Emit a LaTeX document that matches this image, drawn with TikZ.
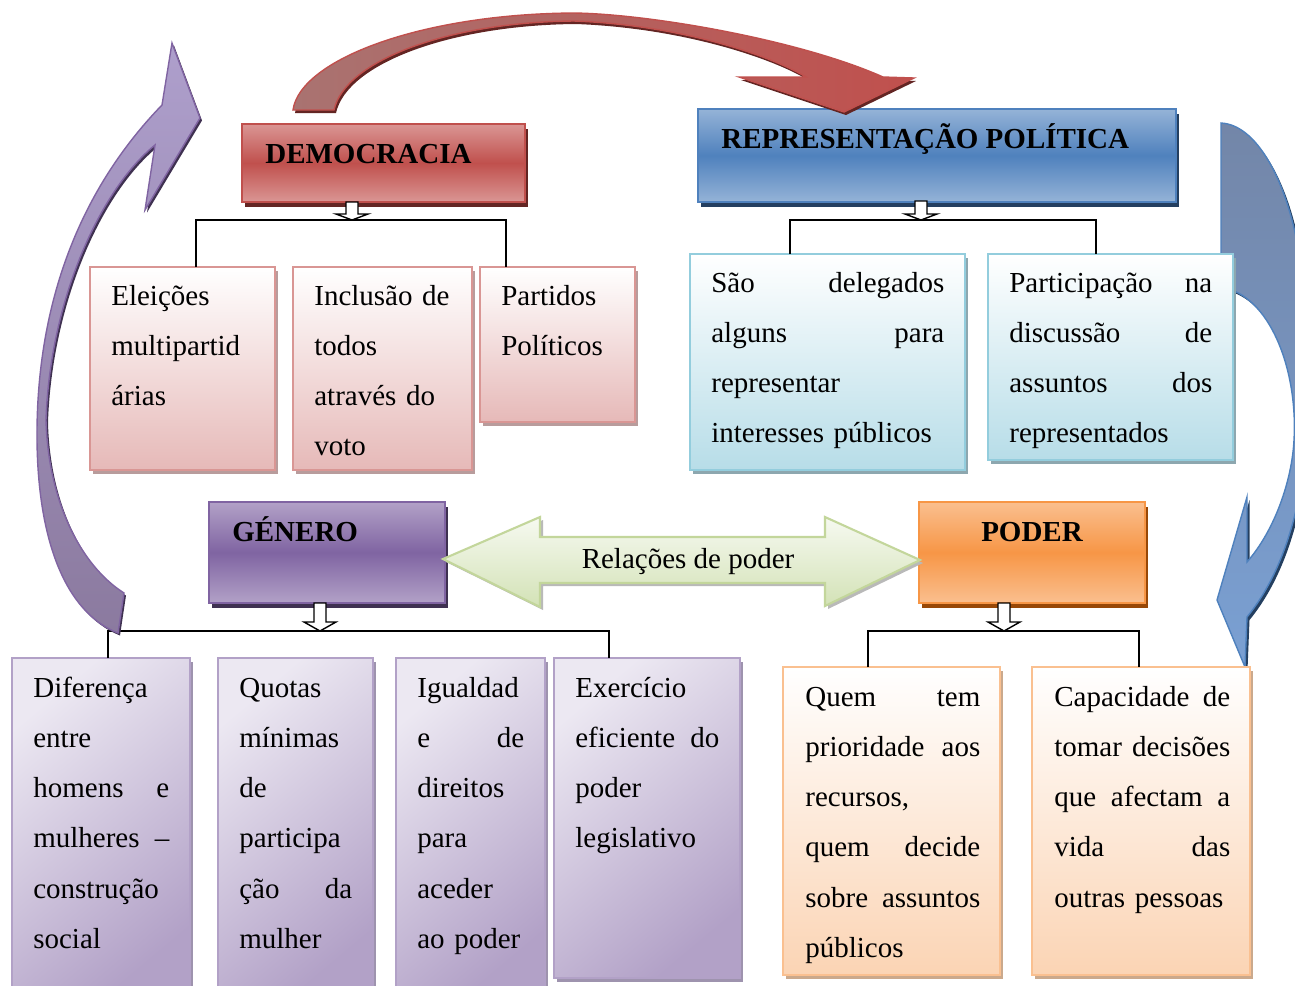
\documentclass[tikz,border=0pt]{standalone}
\usepackage{fontspec}
\setmainfont{Liberation Serif}
\usepackage{tikz}
\usetikzlibrary{shadows,calc}

\definecolor{demred}{HTML}{C0504D}
\definecolor{demredl}{HTML}{DA9694}
\definecolor{demredd}{HTML}{632523}
\definecolor{redmuted}{HTML}{A97371}
\definecolor{pinkl}{HTML}{E6B9B8}
\definecolor{pinkbd}{HTML}{D99694}
\definecolor{pinksh}{HTML}{B89C9C}
\definecolor{repblue}{HTML}{4F81BD}
\definecolor{repbluel}{HTML}{95B3D7}
\definecolor{repblued}{HTML}{243F60}
\definecolor{bluegray}{HTML}{7386A8}
\definecolor{bluelow}{HTML}{7AA0D3}
\definecolor{cyanl}{HTML}{B7DDE8}
\definecolor{cyanbd}{HTML}{93CDDD}
\definecolor{cyansh}{HTML}{8DA7AF}
\definecolor{genpurp}{HTML}{8064A2}
\definecolor{genpurpl}{HTML}{B2A1C7}
\definecolor{genpurpd}{HTML}{3F3151}
\definecolor{lilac}{HTML}{ECE8F2}
\definecolor{lilacsh}{HTML}{9E93AE}
\definecolor{purptop}{HTML}{AE9FCC}
\definecolor{purplow}{HTML}{8B7A9F}
\definecolor{podorange}{HTML}{F79646}
\definecolor{podorangel}{HTML}{FABF8F}
\definecolor{podorangedk}{HTML}{984807}
\definecolor{peach}{HTML}{FBD4B4}
\definecolor{peachbd}{HTML}{FAC090}
\definecolor{peachsh}{HTML}{CBA98C}
\definecolor{relgreen}{HTML}{D3E2B6}
\definecolor{relgreenbd}{HTML}{C3D69B}

% small hollow block arrow under a title box: x, top, tip, head length
\newcommand{\hollowarrow}[4]{%
  \draw[fill=white, line width=0.8pt] (#1-6,#2) -- (#1+6,#2) -- (#1+6,#3-#4) -- (#1+16,#3-#4)
    -- (#1,#3) -- (#1-16,#3-#4) -- (#1-6,#3-#4) -- cycle;}

\begin{document}
\begin{tikzpicture}[x=0.02cm, y=-0.02cm,
  every node/.style={font=\fontsize{16.5}{28.6}\selectfont},
  hdr/.style={draw, line width=1pt, anchor=north west, outer sep=0pt, inner sep=0pt},
  hdtxt/.style={anchor=base west, inner sep=0pt, font=\fontsize{16.5}{20}\selectfont\bfseries},
  demhead/.style={draw=demred, top color=demredl, bottom color=demredl, middle color=demred,
    drop shadow={shadow xshift=0.06cm, shadow yshift=-0.1cm, fill=demredd, opacity=1}},
  rephead/.style={draw=repblue, top color=repbluel, bottom color=repbluel, middle color=repblue,
    drop shadow={shadow xshift=0.06cm, shadow yshift=-0.1cm, fill=repblued, opacity=1}},
  genhead/.style={draw=genpurp, top color=genpurpl, bottom color=genpurpl, middle color=genpurp,
    drop shadow={shadow xshift=0.06cm, shadow yshift=-0.1cm, fill=genpurpd, opacity=1}},
  podhead/.style={draw=podorange, top color=podorangel, bottom color=podorangel, middle color=podorange,
    drop shadow={shadow xshift=0.06cm, shadow yshift=-0.1cm, fill=podorangedk, opacity=1}},
  kid/.style={draw, line width=1.2pt, anchor=north west, outer sep=0pt, inner sep=0pt},
  pinkkid/.style={draw=pinkbd, top color=white, bottom color=pinkl,
    drop shadow={shadow xshift=0.06cm, shadow yshift=-0.08cm, fill=pinksh, opacity=1}},
  cyankid/.style={draw=cyanbd, top color=white, bottom color=cyanl,
    drop shadow={shadow xshift=0.06cm, shadow yshift=-0.08cm, fill=cyansh, opacity=1}},
  purpkid/.style={draw=genpurpl, top color=lilac, bottom color=genpurpl, shading angle=40,
    drop shadow={shadow xshift=0.06cm, shadow yshift=-0.08cm, fill=lilacsh, opacity=1}},
  peachkid/.style={draw=peachbd, top color=white, bottom color=peach,
    drop shadow={shadow xshift=0.06cm, shadow yshift=-0.08cm, fill=peachsh, opacity=1}},
  txt/.style={anchor=base west, align=left, inner sep=0pt},
  conn/.style={line width=1pt},
  redarrow/.style={draw=demred, line width=0.8pt, left color=redmuted, right color=demred,
    drop shadow={shadow xshift=0.04cm, shadow yshift=-0.06cm, fill=demredd, opacity=1}},
  bluearrow/.style={draw=repblue, line width=0.8pt, top color=bluegray, bottom color=bluelow,
    drop shadow={shadow xshift=0.05cm, shadow yshift=-0.06cm, fill=repblued, opacity=1}},
  purparrow/.style={draw=genpurp, line width=0.8pt, top color=purptop, bottom color=purplow,
    drop shadow={shadow xshift=0.04cm, shadow yshift=-0.05cm, fill=genpurpd, opacity=1}},
  relarrow/.style={draw=relgreenbd, line width=1.2pt, top color=relgreen!20!white, bottom color=relgreen,
    drop shadow={shadow xshift=0.06cm, shadow yshift=-0.06cm, fill=gray!55, opacity=1}}]
\useasboundingbox (0,0) rectangle (1295,985);
\clip (0,0) rectangle (1295,985);

%% right curved arrow, behind the boxes
\path[bluearrow] (1221,123) .. controls (1260,125) and (1290,190) .. (1300,260)
  .. controls (1320,400) and (1310,540) .. (1247,617) -- (1245,667) -- (1217,600) -- (1247,497) -- (1247,562)
  .. controls (1275,530) and (1292,480) .. (1294,440) .. controls (1298,370) and (1270,295) .. (1221,287) -- cycle;

%% title boxes
\node[hdr, demhead, minimum width=5.66cm, minimum height=1.56cm] (dem) at (242,124) {};
\node[hdtxt] (demt) at ([shift={(23,39)}]dem.north west) {DEMOCRACIA};
\node[hdr, rephead, minimum width=9.56cm, minimum height=1.86cm] (rep) at (698,109) {};
\node[hdtxt] (rept) at ([shift={(23,39)}]rep.north west) {REPRESENTAÇÃO POLÍTICA};
\node[hdr, genhead, minimum width=4.72cm, minimum height=2.02cm] (gen) at (209,502) {};
\node[hdtxt] (gent) at ([shift={(23,39)}]gen.north west) {GÉNERO};
\node[hdr, podhead, minimum width=4.52cm, minimum height=2.02cm] (pod) at (919,502) {};
\node[hdtxt, anchor=base] (podt) at ([shift={(0,39)}]pod.north) {PODER};

%% democracia
\node[kid, pinkkid, minimum width=3.70cm, minimum height=4.06cm] (dem1) at (90,267) {};
\node[txt, text width=2.86cm] (dem1t) at ([shift={(21,38)}]dem1.north west) {Eleições\\ multipartid\\ árias};
\node[kid, pinkkid, minimum width=3.58cm, minimum height=4.06cm] (dem2) at (293,267) {};
\node[txt, text width=2.74cm] (dem2t) at ([shift={(21,38)}]dem2.north west) {Inclusão de\\ todos\\ através do\\ voto};
\node[kid, pinkkid, minimum width=3.10cm, minimum height=3.10cm] (dem3) at (480,267) {};
\node[txt, text width=2.26cm] (dem3t) at ([shift={(21,38)}]dem3.north west) {Partidos\\ Políticos};

%% representacao politica
\node[kid, cyankid, minimum width=5.50cm, minimum height=4.32cm] (rep1) at (690,254) {};
\node[txt, text width=4.66cm] (rep1t) at ([shift={(21,38)}]rep1.north west)
  {São\hfill delegados\\ alguns\hfill para\\ representar\\ interesses públicos};
\node[kid, cyankid, minimum width=4.90cm, minimum height=4.12cm] (rep2) at (988,254) {};
\node[txt, text width=4.06cm] (rep2t) at ([shift={(21,38)}]rep2.north west)
  {Participação\hfill na\\ discussão\hfill de\\ assuntos\hfill dos\\ representados};

%% genero
\node[kid, purpkid, minimum width=3.56cm, minimum height=6.80cm] (gen1) at (12,658) {};
\node[txt, text width=2.72cm] (gen1t) at ([shift={(21,39)}]gen1.north west)
  {Diferença\\ entre\\ homens\hfill e\\ mulheres\hfill –\\ construção\\ social};
\node[kid, purpkid, minimum width=3.10cm, minimum height=6.80cm] (gen2) at (218,658) {};
\node[txt, text width=2.26cm] (gen2t) at ([shift={(21,39)}]gen2.north west)
  {Quotas\\ mínimas\\ de\\ participa\\ ção\hfill da\\ mulher};
\node[kid, purpkid, minimum width=2.98cm, minimum height=6.80cm] (gen3) at (396,658) {};
\node[txt, text width=2.14cm] (gen3t) at ([shift={(21,39)}]gen3.north west)
  {Igualdad\\ e\hfill de\\ direitos\\ para\\ aceder\\ ao poder};
\node[kid, purpkid, minimum width=3.72cm, minimum height=6.40cm] (gen4) at (554,658) {};
\node[txt, text width=2.88cm] (gen4t) at ([shift={(21,39)}]gen4.north west)
  {Exercício\\ eficiente\hfill do\\ poder\\ legislativo};

%% poder
\node[kid, peachkid, minimum width=4.34cm, minimum height=6.16cm] (pod1) at (783,667) {};
\node[txt, text width=3.50cm] (pod1t) at ([shift={(22,39)}]pod1.north west)
  {Quem\hfill tem\\ prioridade\hfill aos\\ recursos,\\ quem\hfill decide\\ sobre\hfill assuntos\\ públicos};
\node[kid, peachkid, minimum width=4.36cm, minimum height=6.16cm] (pod2) at (1032,667) {};
\node[txt, text width=3.52cm] (pod2t) at ([shift={(22,39)}]pod2.north west)
  {Capacidade\hfill de\\ tomar\hfill decisões\\ que\hfill afectam\hfill a\\ vida\hfill das\\ outras pessoas};

%% tree lines
\coordinate (demL) at (196,220); \coordinate (demR) at (506,220);
\coordinate (repL) at (790,220); \coordinate (repR) at (1096,220);
\coordinate (genL) at (108,631); \coordinate (genR) at (609,631);
\coordinate (podL) at (868,631); \coordinate (podR) at (1139,631);
\draw[conn] (dem1.north -| demL) -- (demL) -- (demR) -- (dem3.north -| demR);
\draw[conn] (rep1.north -| repL) -- (repL) -- (repR) -- (rep2.north -| repR);
\draw[conn] (gen1.north -| genL) -- (genL) -- (genR) -- (gen4.north -| genR);
\draw[conn] (pod1.north -| podL) -- (podL) -- (podR) -- (pod2.north -| podR);
\hollowarrow{352}{202}{220}{6}
\hollowarrow{921}{201}{220}{6}
\hollowarrow{320}{603}{631}{9}
\hollowarrow{1004}{603}{631}{9}

%% relacoes de poder
\path[relarrow] (443,559) -- (540,517) -- (540,537) -- (825,537) -- (825,517) -- (920,560)
  -- (825,606) -- (825,583) -- (540,583) -- (540,607) -- cycle;
\node (rel) at (688,562) {Relações de poder};

%% top and left curved arrows
\path[redarrow] (293,110) .. controls (300,60) and (420,14) .. (574,13)
  .. controls (650,14) and (800,40) .. (883,77) -- (914,78) -- (844,112) -- (739,77) -- (806,77)
  .. controls (770,55) and (680,25) .. (574,21) .. controls (450,22) and (345,60) .. (334,110) -- cycle;
\path[purparrow] (118,633) .. controls (65,612) and (38,540) .. (37,440)
  .. controls (36,320) and (70,200) .. (162,105) -- (172,43) -- (200,118) -- (145,210) -- (155,145)
  .. controls (100,190) and (50,300) .. (46,420) .. controls (48,500) and (80,565) .. (124,593) -- cycle;
\end{tikzpicture}
\end{document}
